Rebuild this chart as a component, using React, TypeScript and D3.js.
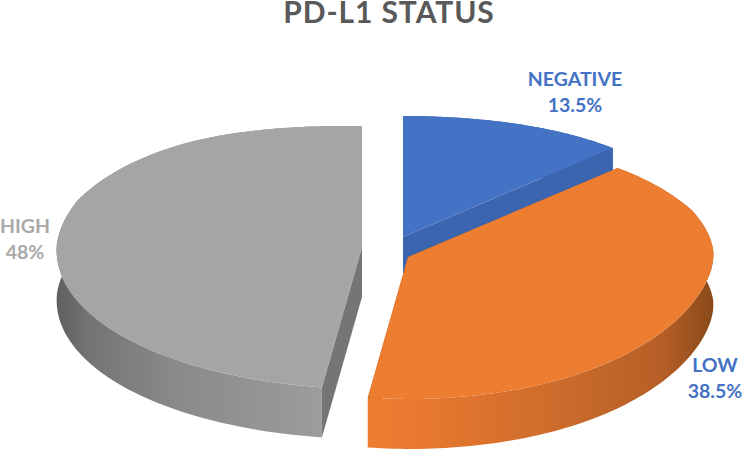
import React from "react";
import * as d3 from "d3";

const categories = ["NEGATIVE", "LOW", "HIGH"];
const shares = [13.5, 38.5, 48];
const percentLabels = ["13.5%", "38.5%", "48%"];

const topColours = ["#4472c4", "#ed7d31", "#a5a5a5"];
const cutColours = ["#3b65ae", "#a85a22", "#757575"];
const labelColours = ["#4472c4", "#4472c4", "#a9a9a9"];

const WIDTH = 744;
const HEIGHT = 461;
const DEPTH = 50;
const RX = 305;
const TILT = 4;

// where each exploded slice has its apex
const apexes = [
    {x: 403, y: 237},
    {x: 408, y: 257},
    {x: 362, y: 247},
];
const labelPos = [
    {x: 575, y1: 86, y2: 112},
    {x: 715, y1: 372, y2: 398},
    {x: 25, y1: 233, y2: 259},
];

// fake perspective: back of the disc is flatter and narrower than the front.
// the camera isn't square on, so the right side sits a bit higher than the left
const widthScale = d3.scaleLinear().domain([-1, -0.66, -0.3, 0, 1]).range([0.874, 0.917, 0.975, 1, 1.05]);
const depthOf = (s: number, c: number) => {
    if (c > 0) {
        if (s < 0) return s * (121 + 12 * (1 - s * s)) - 8 * (1 - s * s);
        return s * (142 - 33 * (1 - s) * (1 - s)) - 8 * (1 - s * s);
    }
    const flat = s < 0 ? s * (121 + 26 * (1 - s * s)) : s * 142;
    return flat + TILT * c;
};

const pie = d3.pie<number>().sort(null);
const line = d3.line<[number, number]>();

const project = (angle: number, apex: {x: number, y: number}): [number, number] => {
    const s = -Math.cos(angle);
    const c = Math.sin(angle);
    return [apex.x + RX * c * widthScale(s), apex.y + depthOf(s, c)];
};

const drop = (p: [number, number]): [number, number] => [p[0], p[1] + DEPTH];

const App = () => {
    const arcs = pie(shares);

    const slices = arcs.map((a, i) => {
        const apex = apexes[i];
        const steps = d3.range(0, 121).map(t => a.startAngle + (a.endAngle - a.startAngle) * t / 120);
        const rim = steps.map(t => project(t, apex));
        const centre: [number, number] = [apex.x, apex.y];
        const first = rim[0];
        const last = rim[rim.length - 1];
        return {
            top: line([centre, ...rim]) + "Z",
            outer: line([...rim, ...rim.map(drop).reverse()]) + "Z",
            cutA: line([centre, first, drop(first), drop(centre)]) + "Z",
            cutB: line([centre, last, drop(last), drop(centre)]) + "Z",
        };
    });

    return (
        <svg width={WIDTH} height={HEIGHT} viewBox={`0 0 ${WIDTH} ${HEIGHT}`}
             style={{position: "absolute", left: 0, top: 0, fontFamily: "Lato, 'Open Sans', sans-serif"}}>
            <defs>
                <linearGradient id="side-0" gradientUnits="userSpaceOnUse" x1={403} x2={612} y1={0} y2={0}>
                    <stop offset="0" stopColor="#3b65ae"/>
                    <stop offset="1" stopColor="#3b65ae"/>
                </linearGradient>
                <linearGradient id="side-1" gradientUnits="userSpaceOnUse" x1={369} x2={713} y1={0} y2={0}>
                    <stop offset="0" stopColor="#ed7d31"/>
                    <stop offset="0.15" stopColor="#e8782e"/>
                    <stop offset="0.55" stopColor="#cc6c2c"/>
                    <stop offset="0.85" stopColor="#b65f26"/>
                    <stop offset="1" stopColor="#8a4a1b"/>
                </linearGradient>
                <linearGradient id="side-2" gradientUnits="userSpaceOnUse" x1={57} x2={322} y1={0} y2={0}>
                    <stop offset="0" stopColor="#5f5f5f"/>
                    <stop offset="0.12" stopColor="#747474"/>
                    <stop offset="0.45" stopColor="#8a8a8a"/>
                    <stop offset="1" stopColor="#9c9c9c"/>
                </linearGradient>
            </defs>

            <text x={389} y={23} textAnchor="middle" fontSize={30} fontWeight={700} letterSpacing={0.9} fill="#595959">PD-L1 STATUS</text>

            {slices.map((s, i) => (
                <g key={categories[i]}>
                    <path d={s.cutA} fill={cutColours[i]}/>
                    <path d={s.cutB} fill={cutColours[i]}/>
                    <path d={s.outer} fill={`url(#side-${i})`}/>
                    <path d={s.top} fill={topColours[i]}/>
                </g>
            ))}

            {categories.map((c, i) => (
                <text key={c} textAnchor="middle" fontSize={19.5} fontWeight={700} fill={labelColours[i]}>
                    <tspan x={labelPos[i].x} y={labelPos[i].y1}>{c}</tspan>
                    <tspan x={labelPos[i].x} y={labelPos[i].y2}>{percentLabels[i]}</tspan>
                </text>
            ))}
        </svg>
    );
};

export default App;
